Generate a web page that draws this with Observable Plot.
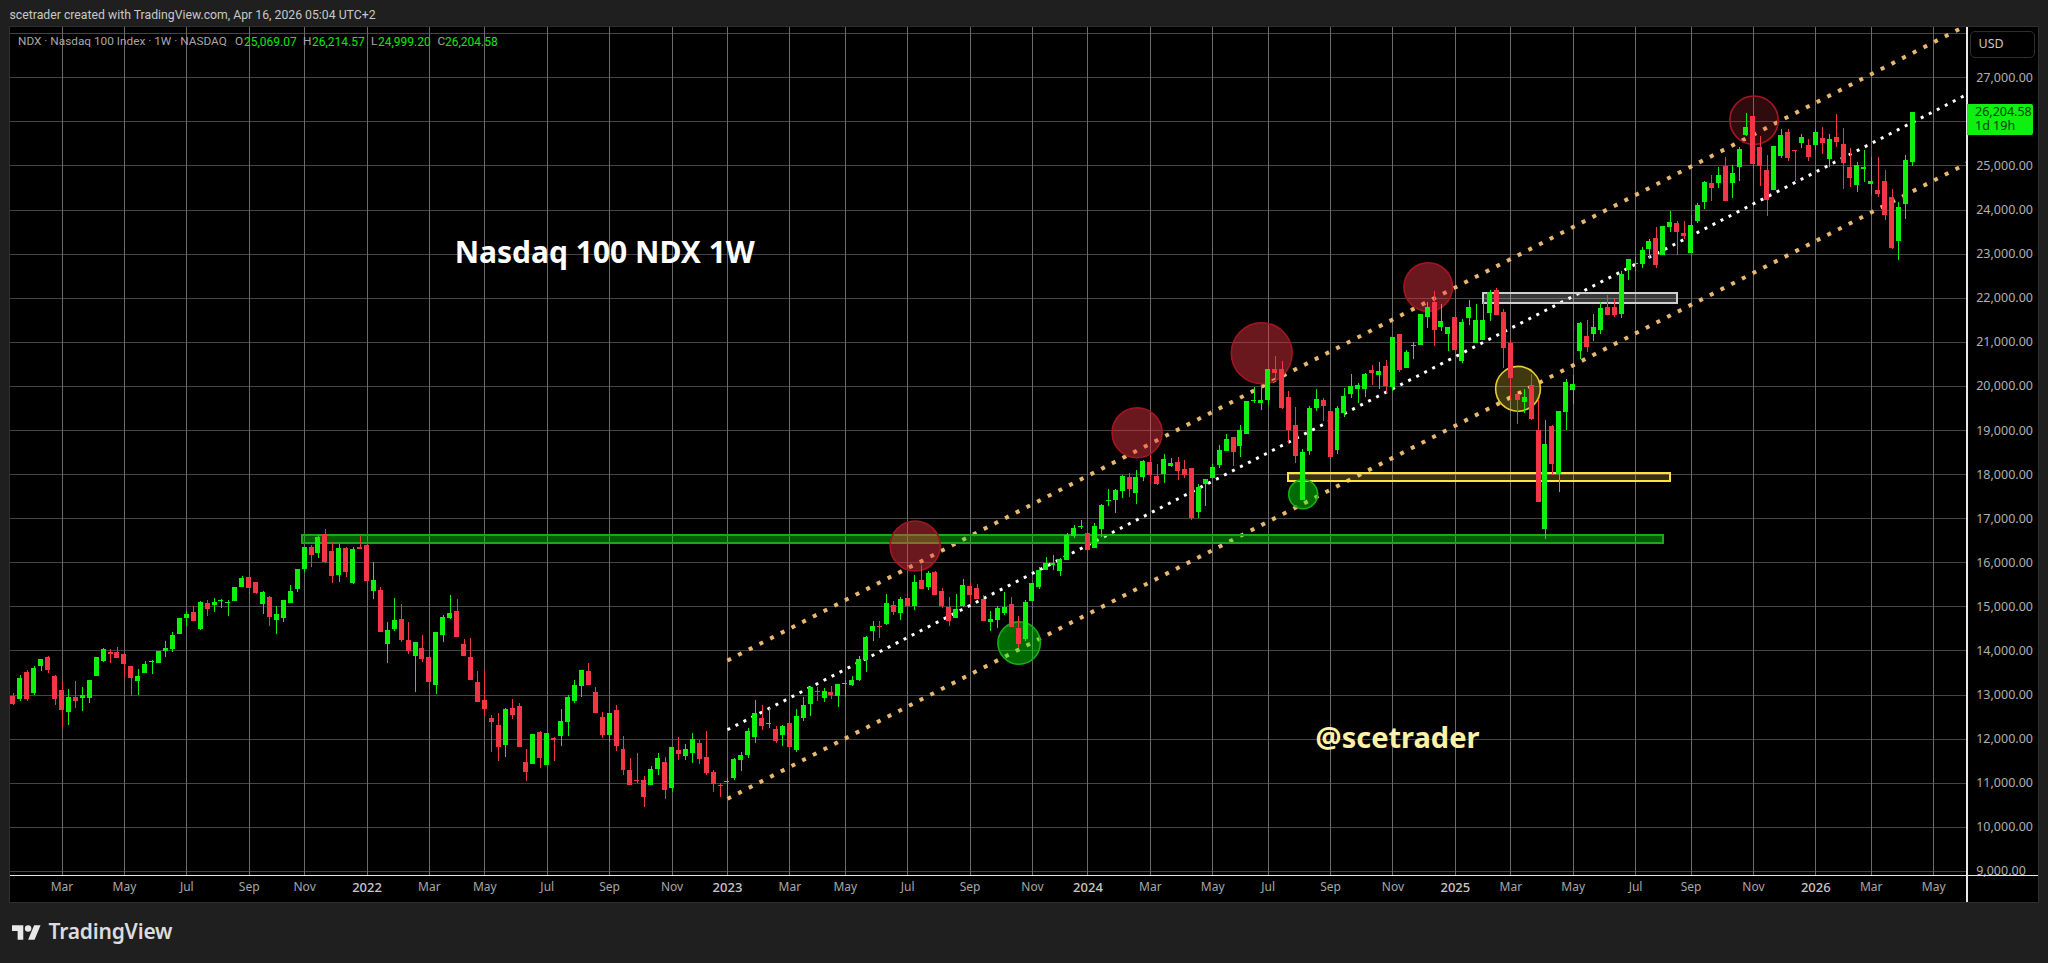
<!DOCTYPE html>
<html>
<head>
<meta charset="utf-8">
<script src="https://cdn.jsdelivr.net/npm/d3@7"></script>
<script src="https://cdn.jsdelivr.net/npm/@observablehq/plot@0.6"></script>
<style>
html,body{margin:0;padding:0;background:#1f1f1f;overflow:hidden;width:2048px;height:963px;font-family:"Noto Sans",sans-serif}
.abs{position:absolute;white-space:nowrap}
#panel{position:absolute;left:9px;top:26px;width:2028px;height:875px;background:#000;border:1px solid #2f2f2f}
#chart{position:absolute;left:0;top:0}
</style>
</head>
<body>
<div id="panel"></div>
<div id="chart"></div>
<script>
// Weekly candles: week 0 is the first week of January 2022
const firstWeek = -51;
const opens = [
12962,12894,13508,13030,13644,13848,13417,13098,12598,12939,
12917,12917,13417,13758,13962,13962,13917,13644,13303,13485,
13735,13712,13985,14030,14371,14735,14871,14485,15076,15030,
15121,15076,15121,15439,15667,15553,15053,15212,14689,14735,
15076,15394,15849,16349,16212,16644,16258,15712,16326,15530,
16349,16394,15348,15371,14144,14485,14712,14235,13871,14053,
13848,13212,14349,14735,14894,14144,13848,13280,12871,12462,
12303,11848,12689,12735,11462,11417,12144,11394,12008,12053,
12371,12848,13189,13530,13053,12485,12076,12644,11758,11280,
11053,11053,10939,11303,11462,10871,11735,11598,11667,11894,
11576,11235,10939,11008,11098,11508,11621,12030,12462,12326,
12212,12076,12348,11735,12462,12780,13076,12917,13053,12962,
13235,13212,13326,13780,14439,14553,14598,15030,14849,15189,
15008,15599,15439,15780,15348,14985,14735,15008,15462,15417,
15167,14644,14689,14849,15053,14508,14258,15121,15439,15826,
15939,15803,16053,16598,16803,16667,16326,16758,17386,17417,
17621,17939,17576,17939,18280,17962,18008,18189,18280,18121,
18144,17144,17780,17917,18212,18530,18849,18644,18917,19667,
19621,19689,20394,20394,19758,19121,17417,18530,19508,19689,
19439,18553,19394,19826,19939,19939,20371,20258,20462,19985,
21167,20417,20917,20939,21553,21894,21348,21167,21553,20576,
21530,20985,21053,21644,22167,21667,20985,19826,19644,20030,
19008,16757,19098,18008,19417,19917,20803,21144,21189,21258,
21780,21780,21621,22621,22758,22758,23098,23349,22962,23598,
23689,23462,23008,23735,24167,24598,24598,24985,24598,24962,
25689,26121,25417,24894,24439,25212,25758,25348,25508,25462,
25462,25621,25144,25644,25485,24962,24553,24917,24576,24439,
24644,24280,23280,24121,25069];
const highs = [
13030,13439,13553,13644,13803,13871,13439,13303,13121,13303,
13167,13326,13848,14053,14030,14076,13939,13644,13576,13758,
13780,13985,14212,14417,14735,14894,15008,15121,15144,15189,
15167,15144,15439,15689,15667,15553,15348,15235,15008,15144,
15485,15849,16349,16394,16621,16758,16462,16417,16349,16349,
16599,16508,16008,15439,14644,15189,15053,14644,14189,14349,
13848,14417,14803,15258,15167,14258,14280,13530,13553,12530,
12576,12689,12894,12803,11758,12098,12167,12121,12030,12667,
12985,13326,13553,13712,13167,12598,12576,12758,12053,11553,
11667,11144,11371,11667,11576,11803,12030,11871,12121,11962,
12167,11280,10985,11098,11553,11689,12235,12871,12758,12689,
12280,12303,12439,12667,12939,13189,13167,13144,13189,13235,
13326,13417,13871,14326,14667,14667,15280,15121,15212,15189,
15712,15939,15803,15803,15417,15212,15280,15621,15530,15508,
15258,14894,15008,15326,15212,14780,15144,15530,15894,16121,
16167,16098,16667,16849,16962,16667,16894,17326,17667,17667,
17985,18030,18099,18326,18417,18235,18462,18371,18394,18326,
18144,17780,17894,18235,18667,18917,18849,19121,19667,19985,
20030,20394,20689,20576,19894,19530,18576,19553,19939,19735,
19439,19553,19962,20280,20076,20303,20485,20553,20598,21121,
21189,20826,21008,21621,21894,22144,21849,21348,21712,21508,
21939,21849,21894,22167,22212,21735,21076,19894,19939,20280,
19712,19235,19121,19439,20167,20258,21439,21485,21621,21894,
22053,21985,22598,22871,22917,23144,23326,23598,23621,23962,
23735,23735,23871,24144,24644,24780,24962,25189,25008,25417,
26189,26121,25667,25235,25439,25826,25826,25348,25712,25598,
25826,25871,25712,26167,25849,25394,25076,25348,25189,25189,
24894,24462,24167,25235,26214];
const lows = [
12758,12848,12848,12985,13530,13485,12758,12250,12310,12689,
12621,12803,13417,13735,13712,13826,13394,12962,12985,13485,
13462,13712,13848,13962,14371,14553,14667,14462,14780,14871,
14962,14780,15121,15439,15417,15280,14826,14553,14371,14644,
15076,15326,15780,15894,16099,15985,15530,15553,15667,15508,
16303,15530,15167,14417,13712,14439,14189,13917,13053,13735,
13121,13008,14189,14712,14303,13871,13326,12826,12508,11689,
11485,11576,12439,11803,11030,11417,11326,11394,11485,11826,
12053,12803,12939,13212,12576,12008,11917,11712,11167,10939,
10985,10439,10939,11167,10621,10780,11508,11508,11439,11417,
11167,10780,10667,10667,11053,11258,11553,11894,12189,12235,
11894,11826,11803,11689,12394,12508,12848,12826,12894,12712,
12939,13189,13303,13508,14212,14280,14576,14803,14689,15008,
14917,15394,15371,15258,14962,14553,14735,14985,15053,15167,
14667,14439,14508,14803,14530,14053,14212,15121,15394,15826,
15826,15689,16053,16553,16758,16280,16326,16576,17280,17121,
17462,17485,17326,17848,17803,17758,17803,18167,17856,17917,
16962,17008,17280,17917,18144,18530,18189,18394,18917,19621,
19462,19576,20144,19485,18712,18258,17417,18439,19439,19212,
18394,18462,19303,19735,19621,19758,20030,19939,19848,19894,
20326,20417,20621,20939,21303,20917,21235,20803,20689,20530,
21371,20985,21053,21462,21598,20417,19667,19144,19394,19235,
17371,16530,17985,17598,19008,19598,20621,20780,21030,21189,
21598,21553,21530,22394,22598,22667,22871,22667,22962,23485,
22962,23326,23008,23689,24008,24189,24485,24189,24258,24644,
25667,24576,24530,23848,24439,25167,25098,24644,25394,25098,
25348,25258,24962,25417,24462,24508,24394,24621,24326,24280,
23758,23098,22848,23780,24999];
const closes = [
12780,13371,12894,13598,13803,13553,12894,12644,12939,12848,
12985,13326,13848,14030,13917,13826,13689,13371,13417,13689,
13758,13985,14053,14349,14735,14826,14667,15099,14939,15099,
15144,15099,15439,15644,15417,15303,15326,14758,14826,15144,
15348,15849,16349,16167,16576,16008,15689,16326,15780,16303,
16303,15576,15599,14417,14462,14689,14235,13985,14189,13803,
13280,14417,14758,14849,14303,13871,13326,12826,12667,12371,
11803,12667,12530,11803,11235,12098,11553,12121,11962,12394,
12939,13212,13553,13212,12576,12076,12576,11826,11280,10939,
11030,10667,11303,11553,10826,11803,11644,11758,11985,11530,
11212,10962,10917,11030,11530,11621,12167,12576,12280,12348,
11939,12280,11803,12508,12758,13167,13053,13076,12985,13235,
13258,13326,13803,14303,14553,14530,15076,14871,15167,15008,
15553,15394,15758,15258,15008,14667,14939,15485,15258,15167,
14667,14712,14962,14985,14530,14144,15099,15530,15826,15985,
15985,16076,16621,16780,16826,16280,16826,17303,17409,17644,
17962,17667,17939,18303,17985,17780,18349,18258,18076,17985,
17008,17712,17894,18167,18553,18803,18508,19008,19667,19689,
19689,20394,20303,19508,19008,18417,18508,19508,19712,19553,
18394,19508,19780,20008,20030,20280,20303,20348,20008,21121,
20371,20780,20939,21621,21780,21258,21462,21326,20826,21439,
21780,21485,21485,22121,21598,20871,20189,19689,19758,19258,
17371,18689,18235,19439,20098,20053,21417,20894,21348,21758,
21598,21598,22530,22871,22780,23076,23280,22735,23621,23712,
23485,23394,23644,24098,24621,24485,24780,24189,24826,25371,
25871,25030,24985,24212,25439,25689,25167,25326,25644,25189,
25758,25508,25598,25530,25053,24712,25008,24962,24644,24348,
23871,23121,24053,25121,26204];

// Axes
const weekDomain = [-51.43, 230.84];
const priceDomain = [8908, 28141];
const gridPrices = [9000,10000,11000,12000,13000,14000,15000,16000,17000,18000,19000,20000,21000,22000,23000,24000,25000,26000,27000,28000];
const labelledPrices = [9000,10000,11000,12000,13000,14000,15000,16000,17000,18000,19000,20000,21000,22000,23000,24000,25000,27000];
const monthWeeks = [-44,-35,-26,-17,-9,9,17,26,35,44,61,69,78,87,96,113,122,130,139,148,165,174,183,191,200,217,226];
const monthLabels = ["Mar","May","Jul","Sep","Nov","Mar","May","Jul","Sep","Nov","Mar","May","Jul","Sep","Nov","Mar","May","Jul","Sep","Nov","Mar","May","Jul","Sep","Nov","Mar","May"];
const yearWeeks = [0,52,104,157,209];
const yearLabels = ["2022","2023","2024","2025","2026"];

// Regression channel (dotted lines)
const channelWeeks = [52, 230.84];
const channelUpper = [13784, 28197];
const channelMiddle = [12213, 26626];
const channelLower = [10647, 25061];

// Highlight zones
const zoneKinds = ["green","yellow","white"];
const zoneStart = [-9.3, 132.9, 161];
const zoneEnd = [187, 188, 189];
const zoneTop = [16620, 18025, 22105];
const zoneBottom = [16438, 17845, 21885];

// Highlight circles
const circleKinds = ["red","red","red","red","darkred","green","green","yellow"];
const circleWeeks = [79.08,111.09,129.07,153.09,200.09,94.07,135.05,166.04];
const circlePrices = [16381,18949,20754,22255,26038,14181,17556,19947];

// Texts
const headerText = "scetrader created with TradingView.com, Apr 16, 2026 05:04 UTC+2";
const symbolText = "NDX · Nasdaq 100 Index · 1W · NASDAQ";
const chartTitle = "Nasdaq 100 NDX 1W";
const authorTag = "@scetrader";
const lastPrice = "26,204.58";
const countdown = "1d 19h";

const candles = opens.map((o,k)=>({week:firstWeek+k,open:o,high:highs[k],low:lows[k],close:closes[k]}));
const up = candles.filter(d=>d.close>=d.open);
const down = candles.filter(d=>d.close<d.open);
const UP="#0ef10e", DOWN="#f23645";
const halfBody=0.36;
const crisp="crispEdges";

const zones = zoneKinds.map((kind,k)=>({kind,x1:zoneStart[k],x2:zoneEnd[k],y1:zoneBottom[k],y2:zoneTop[k]}));
const circles = circleKinds.map((kind,k)=>({kind,x:circleWeeks[k],y:circlePrices[k]}));
const zoneStyle = {
  green:{fill:"#00ff00",fo:.36,stroke:"#19a819"},
  yellow:{fill:"#ffdd33",fo:.22,stroke:"#ffe23c"},
  white:{fill:"#ffffff",fo:.22,stroke:"#cfcfcf"}
};
const circleStyle = {
  red:{fill:"#f23645",fo:.44,stroke:"#a31620"},
  darkred:{fill:"#f23645",fo:.2,stroke:"#a31620"},
  green:{fill:"#00ff00",fo:.42,stroke:"#14b014"},
  yellow:{fill:"#ffdf3c",fo:.25,stroke:"#e6cc2e"}
};
const circleRadius = [25,25,30.4,24.3,24.2,21.2,14.5,22.4];
const line = (ys,stroke,w,dash)=>Plot.line(channelWeeks.map((x,k)=>({x,y:ys[k]})),{x:"x",y:"y",stroke,strokeWidth:w,strokeDasharray:dash,strokeLinecap:"butt",clip:true});

const plot = Plot.plot({
  width:2048,height:963,
  marginLeft:10,marginRight:81.3,marginTop:27,marginBottom:88,
  style:{background:"transparent",fontFamily:"'Noto Sans',sans-serif"},
  x:{domain:weekDomain},
  y:{domain:priceDomain},
  marks:[
    Plot.ruleY(gridPrices,{stroke:"#454545",strokeWidth:1,shapeRendering:crisp}),
    Plot.ruleX([...monthWeeks,...yearWeeks],{stroke:"#6a6a6a",strokeWidth:1,shapeRendering:crisp}),
    line(channelUpper,"#e8b870",4,"4 8"),
    line(channelMiddle,"#ffffff",3,"3 6"),
    line(channelLower,"#e8b870",4,"4 8"),
    ...zones.map(d=>Plot.rect([d],{x1:"x1",x2:"x2",y1:"y1",y2:"y2",fill:zoneStyle[d.kind].fill,fillOpacity:zoneStyle[d.kind].fo,stroke:zoneStyle[d.kind].stroke,strokeWidth:2,shapeRendering:crisp})),
    ...circles.map((d,k)=>Plot.dot([d],{x:"x",y:"y",r:circleRadius[k],fill:circleStyle[d.kind].fill,fillOpacity:circleStyle[d.kind].fo,stroke:circleStyle[d.kind].stroke,strokeWidth:1.6})),
    Plot.ruleX(up,{x:"week",y1:"low",y2:"high",stroke:UP,strokeWidth:1,shapeRendering:crisp}),
    Plot.ruleX(down,{x:"week",y1:"low",y2:"high",stroke:DOWN,strokeWidth:1,shapeRendering:crisp}),
    Plot.rect(up,{x1:d=>d.week-halfBody,x2:d=>d.week+halfBody,y1:"open",y2:"close",fill:UP,shapeRendering:crisp}),
    Plot.rect(down,{x1:d=>d.week-halfBody,x2:d=>d.week+halfBody,y1:"open",y2:"close",fill:DOWN,shapeRendering:crisp}),
    Plot.axisX({anchor:"bottom",ticks:monthWeeks,tickFormat:i=>monthLabels[monthWeeks.indexOf(i)],tickSize:0,tickPadding:7,fontSize:12,fill:"#a8a8a8",label:null}),
    Plot.axisX({anchor:"bottom",ticks:yearWeeks,tickFormat:i=>yearLabels[yearWeeks.indexOf(i)],tickSize:0,tickPadding:7,fontSize:13,fontWeight:500,fill:"#c8c8c8",label:null}),
    Plot.axisY({anchor:"right",ticks:labelledPrices,tickFormat:d3.format(",.2f"),tickSize:0,tickPadding:9,fontSize:12.5,fill:"#b0b0b0",label:null}),
    Plot.text([chartTitle],{x:34.3,y:23015,text:d=>d,fill:"#ffffff",fontSize:30,fontWeight:700}),
    Plot.text([authorTag],{x:148.66,y:12015,text:d=>d,fill:"#fff2a8",fontSize:29,fontWeight:700})
  ]
});
document.getElementById("chart").appendChild(plot);

function put(text,left,top,css){
  const el=document.createElement("div");
  el.className="abs";
  el.textContent=text;
  el.style.cssText=`left:${left}px;top:${top}px;line-height:1;${css||""}`;
  document.body.appendChild(el);
  return el;
}
put(headerText,9.5,8.5,"font-family:Roboto;font-size:12.26px;color:#c8c8c8;");
const grey="font-family:Roboto;font-size:11.8px;color:#a8a8a8;", green="font-family:Roboto;font-size:12px;color:#0be80b;";
put(symbolText,18,35.5,grey);
[["O",235,"25,069.07",244],["H",303,"26,214.57",312],["L",371,"24,999.20",378],["C",437.5,"26,204.58",445]].forEach(([l,lx,v,vx])=>{
  put(l,lx,35.5,grey);put(v,vx,35.5,green);
});
// axis lines
const axisH=document.createElement("div");axisH.className="abs";axisH.style.cssText="left:10px;top:874.5px;width:2028px;height:1.5px;background:#e8e8e8";document.body.appendChild(axisH);
const axisV=document.createElement("div");axisV.className="abs";axisV.style.cssText="left:1966px;top:27px;width:1.5px;height:875px;background:#e8e8e8";document.body.appendChild(axisV);
// USD badge
put("USD",1969.5,30.5,"box-sizing:border-box;width:65px;height:27px;border:1.5px solid #2e2e2e;border-radius:5px;font-size:12.5px;color:#c8c8c8;line-height:24px;padding-left:8px;");
// last price tag
const tag=document.createElement("div");tag.className="abs";tag.style.cssText="left:1967px;top:104px;width:66px;height:31px;background:#10f010;border-radius:0 2px 2px 0";document.body.appendChild(tag);
put(lastPrice,1975,105.5,"font-size:12.5px;color:#0c3d0c;");
put(countdown,1975,119.5,"font-size:12.5px;color:#0c3d0c;");
// footer logo
const ns="http://www.w3.org/2000/svg";
const logo=document.createElementNS(ns,"svg");
logo.setAttribute("viewBox","0 4 36 18");logo.setAttribute("width","29");logo.setAttribute("height","15");
logo.style.cssText="position:absolute;left:12px;top:925px";
logo.innerHTML='<path fill="#e8e8e8" d="M14 22H7V11H0V4h14v18zM28 22h-8l7.5-18h8L28 22z"/><circle fill="#e8e8e8" cx="20" cy="8" r="4"/>';
document.body.appendChild(logo);
put("TradingView",48.5,921,"font-size:21px;font-weight:600;color:#dcdcdc;letter-spacing:-.2px;");
</script>
</body>
</html>
